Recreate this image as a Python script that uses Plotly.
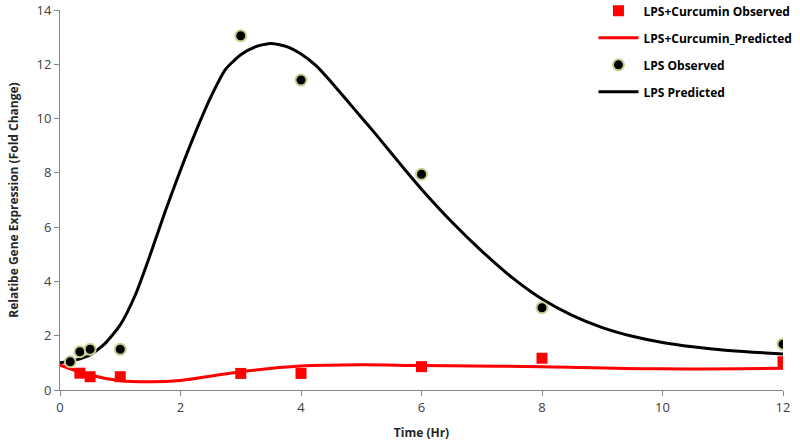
import plotly.graph_objects as go

# Observed data
obs_t_lps = [0.17, 0.33, 0.5, 1, 3, 4, 6, 8, 12]
obs_lps = [1.04, 1.41, 1.5, 1.5, 13.05, 11.42, 7.95, 3.03, 1.69]

obs_t_cur = [0.33, 0.5, 1, 3, 4, 6, 8, 12]
obs_cur = [0.62, 0.49, 0.49, 0.61, 0.61, 0.86, 1.17, 1.04]

# Predicted curves
pred_t_lps = [0, 0.25, 0.5, 0.75, 1, 1.25, 1.5, 1.75, 2, 2.25, 2.5, 2.75, 3, 3.25, 3.5, 3.75,
              4, 4.25, 4.5, 4.75, 5, 5.25, 5.5, 5.75, 6, 6.5, 7, 7.5, 8, 8.5, 9, 9.5, 10, 10.5,
              11, 11.5, 12]
pred_lps = [1.0, 1.1, 1.29, 1.72, 2.4, 3.5, 5.0, 6.6, 8.1, 9.5, 10.78, 11.82, 12.35, 12.65, 12.77, 12.66,
            12.38, 11.95, 11.35, 10.7, 10.05, 9.4, 8.72, 8.05, 7.4, 6.2, 5.12, 4.15, 3.35, 2.75, 2.3, 1.98,
            1.75, 1.59, 1.47, 1.39, 1.33]

pred_t_cur = [0, 0.5, 1, 1.5, 2, 3, 4, 5, 6, 8, 10, 12]
pred_cur = [0.92, 0.55, 0.34, 0.3, 0.35, 0.67, 0.88, 0.93, 0.9, 0.86, 0.78, 0.8]

x_ticks = [0, 2, 4, 6, 8, 10, 12]
y_ticks = [0, 2, 4, 6, 8, 10, 12, 14]

FONT = "Open Sans, Liberation Sans, sans-serif"

fig = go.Figure()
fig.add_trace(go.Scatter(x=pred_t_cur, y=pred_cur, mode="lines",
                         line=dict(color="#ff0000", width=3, shape="spline", smoothing=1),
                         name="LPS+Curcumin_Predicted", showlegend=False))
fig.add_trace(go.Scatter(x=pred_t_lps, y=pred_lps, mode="lines",
                         line=dict(color="#000000", width=3, shape="spline", smoothing=0.6),
                         name="LPS Predicted", showlegend=False))
fig.add_trace(go.Scatter(x=obs_t_cur, y=obs_cur, mode="markers",
                         marker=dict(symbol="square", color="#ff0000", size=11),
                         name="<b>LPS+Curcumin Observed</b>", legendgroup="a"))
fig.add_trace(go.Scatter(x=pred_t_cur, y=[None] * len(pred_t_cur), mode="lines",
                         line=dict(color="#ff0000", width=3),
                         name="<b>LPS+Curcumin_Predicted</b>", legendgroup="b"))
fig.add_trace(go.Scatter(x=obs_t_lps, y=obs_lps, mode="markers",
                         marker=dict(symbol="circle", color="#000000", size=11,
                                     line=dict(color="#c9cf8f", width=2)),
                         name="<b>LPS Observed</b>", legendgroup="c"))
fig.add_trace(go.Scatter(x=pred_t_lps, y=[None] * len(pred_t_lps), mode="lines",
                         line=dict(color="#000000", width=3),
                         name="<b>LPS Predicted</b>", legendgroup="d"))

axis_common = dict(showgrid=False, zeroline=False, showline=True, linecolor="#868686", linewidth=1,
                   ticks="outside", tickcolor="#868686", ticklen=5, automargin=False,
                   tickfont=dict(family=FONT, size=13, color="#404040"))

fig.update_layout(
    width=800, height=441,
    margin=dict(l=60, r=17, t=10, b=51, autoexpand=False),
    plot_bgcolor="white", paper_bgcolor="white",
    xaxis=dict(range=[0, 12], tickvals=x_ticks,
               title=dict(text="<b>Time (Hr)</b>",
                          font=dict(family=FONT, size=12, color="#262626")), **axis_common),
    yaxis=dict(range=[0, 14], tickvals=y_ticks,
               title=dict(text="<b>Relatibe Gene Expression (Fold Change)</b>",
                          font=dict(family=FONT, size=12, color="#262626")), **axis_common),
    legend=dict(x=1.02, xanchor="right", y=1.036, yanchor="top", bgcolor="rgba(0,0,0,0)",
                font=dict(family=FONT, size=12, color="#000000"),
                tracegroupgap=8, itemwidth=40),
    font=dict(family=FONT),
)

fig.write_html("out.html", config={"displayModeBar": False},
               post_script="document.body.style.margin='0';document.body.style.overflow='hidden';")
